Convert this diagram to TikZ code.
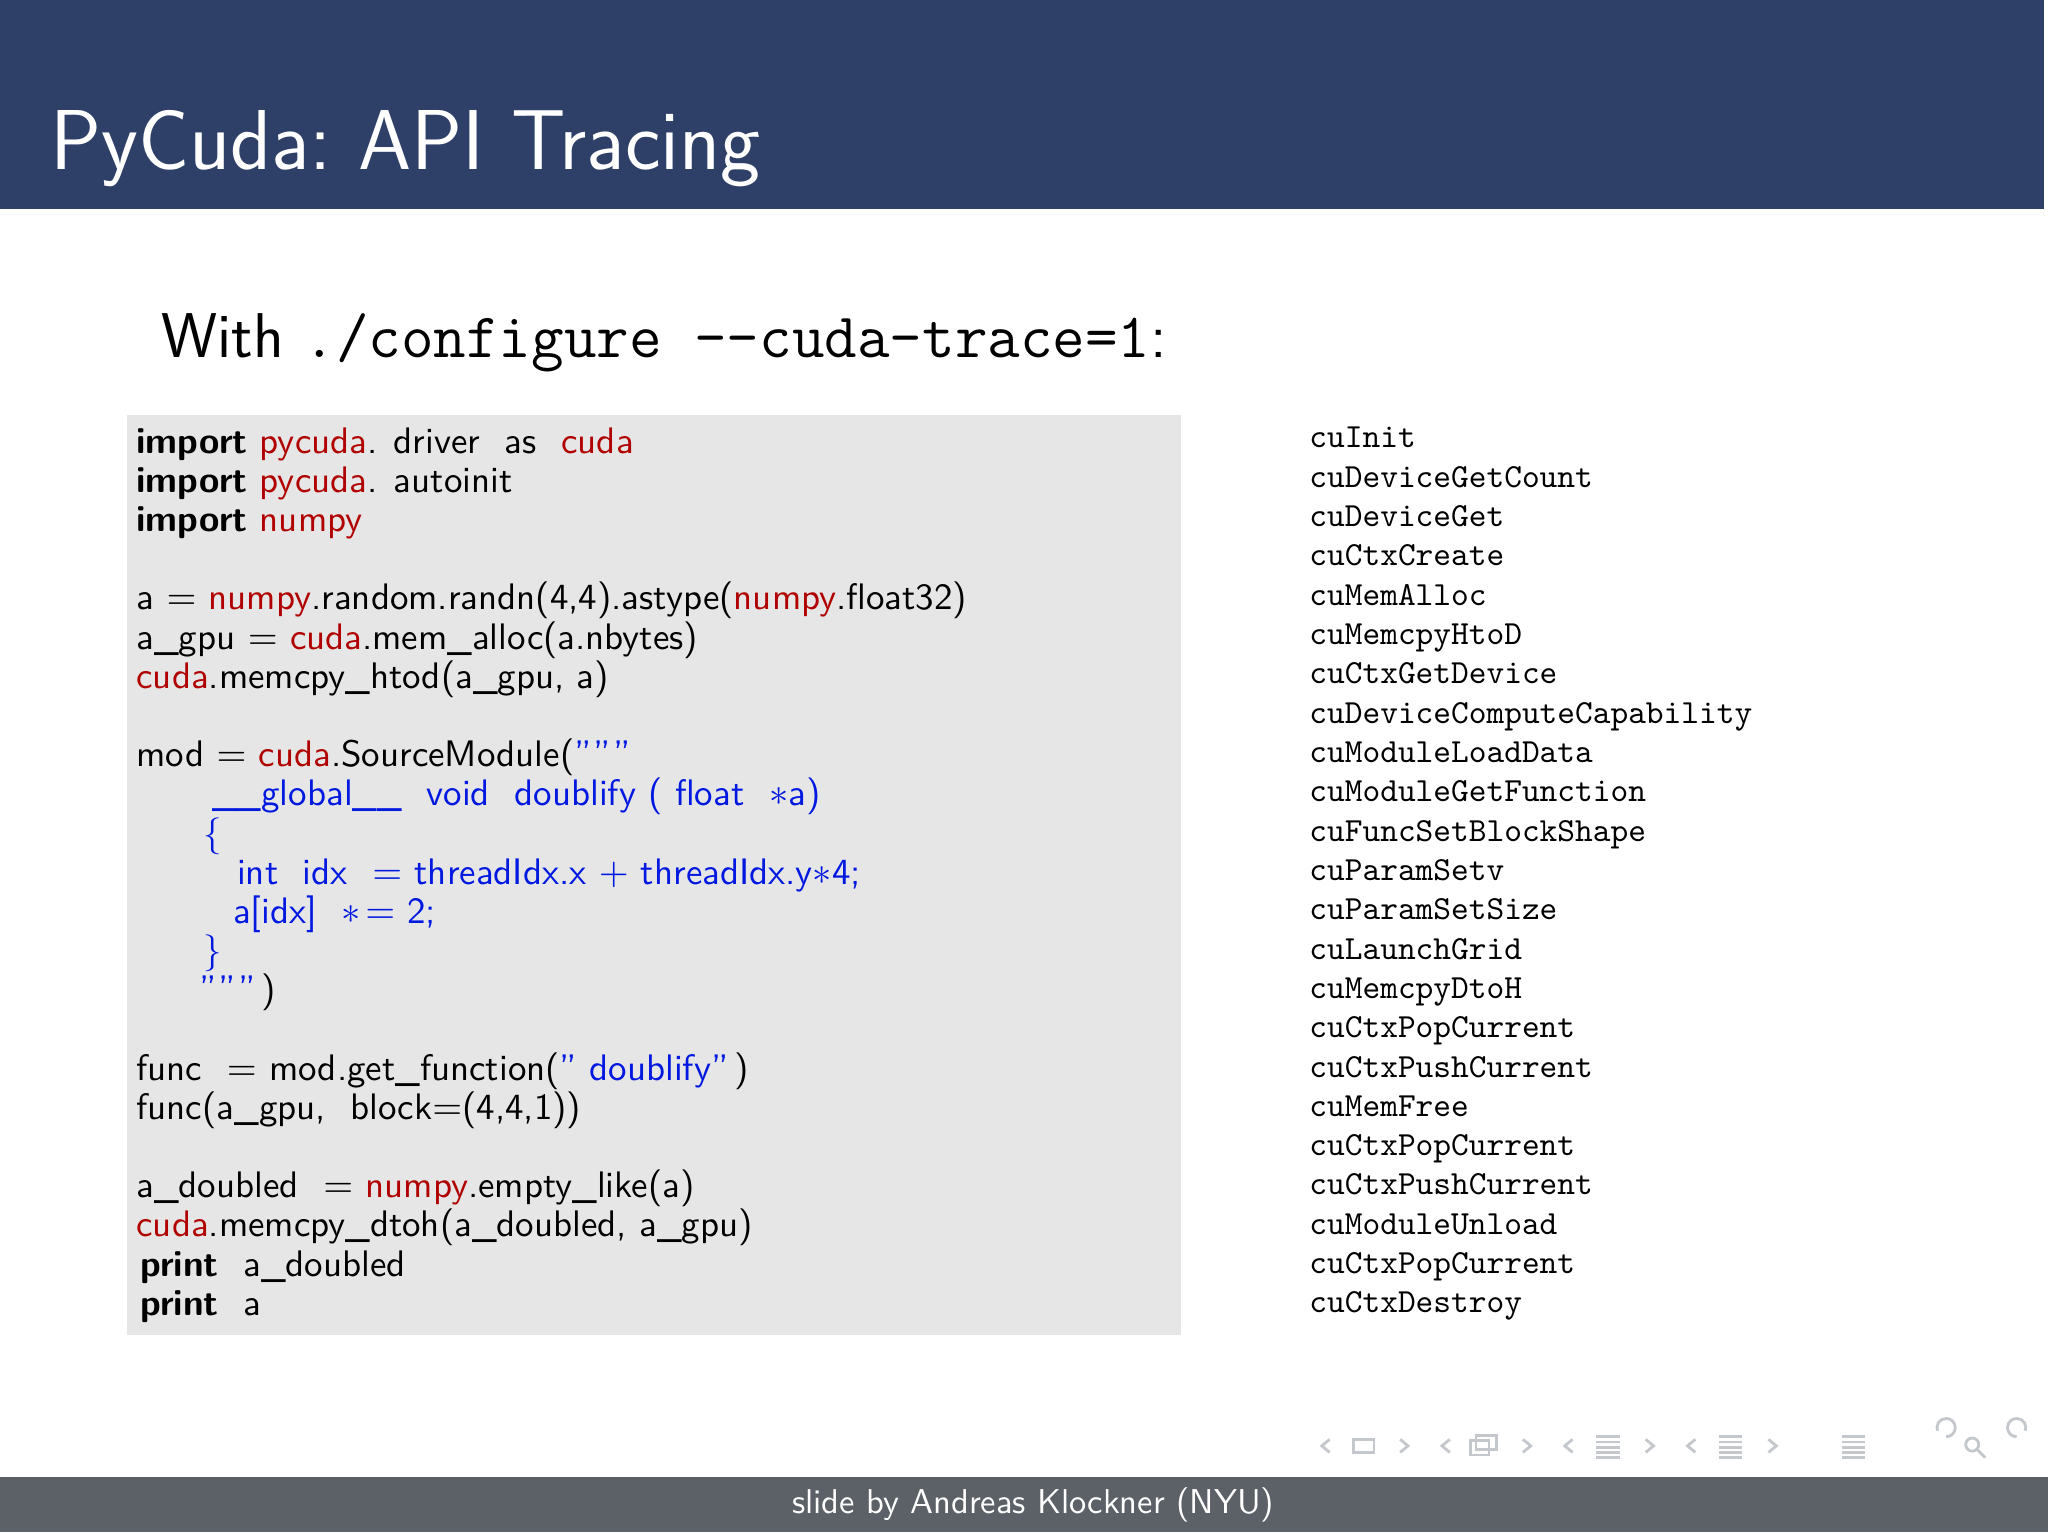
\documentclass[tikz,border=0pt]{standalone}
\definecolor{hdr}{HTML}{2F4068}
\definecolor{ftr}{HTML}{5B6167}
\definecolor{codebg}{HTML}{E6E6E6}
\definecolor{kred}{HTML}{B00000}
\definecolor{kblue}{HTML}{0018E0}
\definecolor{navg}{HTML}{C4C8CC}
\newcommand{\rd}[1]{\textcolor{kred}{#1}}
\newcommand{\bl}[1]{\textcolor{kblue}{#1}}
\begin{document}
\begin{tikzpicture}[x=0.013061cm,y=-0.013061cm,
  code/.style={anchor=base west,inner sep=0,font=\sffamily\fontsize{10.5}{12}\selectfont},
  tr/.style={anchor=base west,inner sep=0,font=\ttfamily\fontsize{9.6}{11}\selectfont},
  nav/.style={navg,line width=0.8pt}]
\useasboundingbox (0,0) rectangle (1568,1173);
\fill[white] (0,0) rectangle (1568,1173);
\fill[hdr] (0,0) rectangle (1565,160);
\node[anchor=base west,inner sep=0,text=white,font=\sffamily\fontsize{24.2}{29}\selectfont] (title) at (38,130) {PyCuda:\ API Tracing};
\node[anchor=base west,inner sep=0,font=\sffamily\fontsize{18}{21}\selectfont] (sub) at (123,274) {With \texttt{./configure --cuda-trace=1}:};
\fill[codebg] (97,318) rectangle (904,1022);
\node[code] (l1) at (104,347) {\textbf{import} \rd{pycuda}. driver\ \ as\ \ \rd{cuda}};
\node[code] (l2) at (104,377) {\textbf{import} \rd{pycuda}. autoinit};
\node[code] (l3) at (104,407) {\textbf{import} \rd{numpy}};
\node[code] (l4) at (104,467) {a $=$ \rd{numpy}.random.randn(4,4).astype(\rd{numpy}.float32)};
\node[code] (l5) at (104,497) {a\_gpu $=$ \rd{cuda}.mem\_alloc(a.nbytes)};
\node[code] (l6) at (104,527) {\rd{cuda}.memcpy\_htod(a\_gpu, a)};
\node[code] (l7) at (104,587) {mod $=$ \rd{cuda}.SourceModule(\bl{"""}};
\node[code] (l8) at (162,617) {\bl{\_\_global\_\_\ \ void\ \ doublify ( float\ \ $*$a)}};
\node[code] (l9) at (155,647) {\bl{\{}};
\node[code] (l10) at (181,677) {\bl{int\ \ idx\ \ $=$ threadIdx.x $+$ threadIdx.y$*$4;}};
\node[code] (l11) at (178,707) {\bl{a[idx]\ \ $*\!=$ 2;}};
\node[code] (l12) at (155,737) {\bl{\}}};
\node[code] (l13) at (152,767) {\bl{"""}\,)};
\node[code] (l14) at (104,827) {func\ \ $=$ mod.get\_function(\bl{" doublify"}\,)};
\node[code] (l15) at (104,857) {func(a\_gpu,\ \ block$=$(4,4,1))};
\node[code] (l16) at (104,917) {a\_doubled\ \ $=$ \rd{numpy}.empty\_like(a)};
\node[code] (l17) at (104,947) {\rd{cuda}.memcpy\_dtoh(a\_doubled,\ a\_gpu)};
\node[code] (l18) at (107,977) {\textbf{print}\ \ a\_doubled};
\node[code] (l19) at (107,1007) {\textbf{print}\ \ a};
\foreach \t [count=\i from 0] in {cuInit,cuDeviceGetCount,cuDeviceGet,cuCtxCreate,cuMemAlloc,cuMemcpyHtoD,cuCtxGetDevice,cuDeviceComputeCapability,cuModuleLoadData,cuModuleGetFunction,cuFuncSetBlockShape,cuParamSetv,cuParamSetSize,cuLaunchGrid,cuMemcpyDtoH,cuCtxPopCurrent,cuCtxPushCurrent,cuMemFree,cuCtxPopCurrent,cuCtxPushCurrent,cuModuleUnload,cuCtxPopCurrent,cuCtxDestroy}
  \node[tr] (t\i) at (1002,{343+30.1*\i}) {\t};
% navigation symbols
\draw[nav] (1018,1102) -- (1012,1107) -- (1018,1112);
\draw[nav] (1036,1102) rectangle (1052,1112);
\draw[nav] (1072,1102) -- (1078,1107) -- (1072,1112);
\draw[nav] (1110,1102) -- (1104,1107) -- (1110,1112);
\draw[nav] (1126,1103) rectangle (1140,1114) (1130,1099) rectangle (1146,1110);
\draw[nav] (1166,1102) -- (1172,1107) -- (1166,1112);
\draw[nav] (1204,1102) -- (1198,1107) -- (1204,1112);
\foreach \yy in {1100,1104,1108,1112,1116} \draw[nav] (1222,\yy) -- (1240,\yy);
\draw[nav] (1260,1102) -- (1266,1107) -- (1260,1112);
\draw[nav] (1298,1102) -- (1292,1107) -- (1298,1112);
\foreach \yy in {1100,1104,1108,1112,1116} \draw[nav] (1316,\yy) -- (1334,\yy);
\draw[nav] (1354,1102) -- (1360,1107) -- (1354,1112);
\foreach \yy in {1100,1104,1108,1112,1116} \draw[nav] (1410,\yy) -- (1428,\yy);
\draw[nav] (1486,1100) circle (0pt) (1490,1100) arc[start angle=90,end angle=-200,radius=7];
\draw[nav] (1510,1106) circle (5) (1514,1110) -- (1520,1116);
\draw[nav] (1544,1100) arc[start angle=90,end angle=380,radius=7];
\fill[ftr] (0,1131) rectangle (1568,1173);
\node[text=white,inner sep=0,font=\sffamily\fontsize{9.8}{12}\selectfont] (foot) at (791,1152) {slide by Andreas Klockner (NYU)};
\end{tikzpicture}
\end{document}
